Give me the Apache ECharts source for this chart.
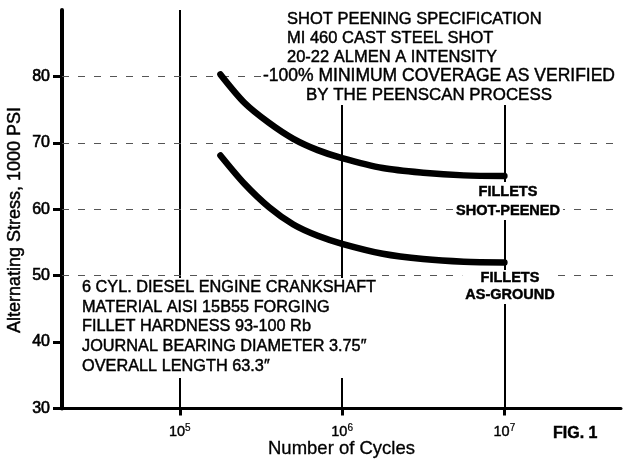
<!DOCTYPE html>
<html><head><meta charset="utf-8">
<script src="https://cdn.jsdelivr.net/npm/echarts@6/dist/echarts.min.js"></script>
<style>html,body{margin:0;padding:0;background:#fff}#c{width:623px;height:459px}</style>
</head><body><div id="c"></div>
<script>
const cycles = [1.78e5, 2.51e5, 3.55e5, 5.01e5, 7.08e5, 1e6, 1.78e6, 3.16e6, 5.62e6, 1e7];
const shotPeened = [80.3, 76.0, 73.0, 70.6, 68.9, 67.7, 66.2, 65.5, 65.1, 65.0];
const asGround = [68.1, 63.8, 60.3, 57.7, 56.0, 54.8, 53.3, 52.5, 52.1, 52.0];
const xTicks = [1e5, 1e6, 1e7];
const yTicks = [30, 40, 50, 60, 70, 80];
const yGridLines = [80, 70, 60, 50];
const specLines = ['SHOT PEENING SPECIFICATION', 'MI 460 CAST STEEL SHOT', '20-22 ALMEN A INTENSITY', '-100% MINIMUM COVERAGE AS VERIFIED', 'BY THE PEENSCAN PROCESS'];
const engineLines = ['6 CYL. DIESEL ENGINE CRANKSHAFT', 'MATERIAL AISI 15B55 FORGING', 'FILLET HARDNESS 93-100 Rb', 'JOURNAL BEARING DIAMETER 3.75\u2033', 'OVERALL LENGTH 63.3\u2033'];
const labelPeened = ['FILLETS', 'SHOT-PEENED'];
const labelGround = ['FILLETS', 'AS-GROUND'];

const FONT = 'Liberation Sans, Arial, Helvetica, sans-serif';
const chart = echarts.init(document.getElementById('c'), null, {renderer: 'canvas'});

const specStyles = ['a', 'a', 'a', 'b', 'c'];
const specText = specLines.map((t, i) => '{' + specStyles[i] + '|' + t + '}').join('\n');
const txtBase = {fontFamily: FONT, fill: '#000', stroke: '#000', lineWidth: 0.45};

chart.setOption({
  animation: false,
  backgroundColor: '#fff',
  grid: {left: 62, right: 2, top: 10, bottom: 50.5, containLabel: false, outerBoundsMode: 'none'},
  xAxis: {
    type: 'log', logBase: 10, min: 18800, max: 5.23e7,
    axisLine: {lineStyle: {color: '#000', width: 3}},
    axisTick: {customValues: xTicks, length: 7, lineStyle: {color: '#000', width: 3}},
    axisLabel: {
      customValues: xTicks, margin: 15, color: '#000',
      formatter: v => '{b|10}{s|' + Math.round(Math.log10(v)) + '}',
      rich: {
        b: {fontFamily: FONT, fontSize: 14.5, color: '#000', textBorderColor: '#000', textBorderWidth: 0.4},
        s: {fontFamily: FONT, fontSize: 10, color: '#000', verticalAlign: 'top', padding: [0, 0, 7, 0], textBorderColor: '#000', textBorderWidth: 0.2}
      }
    },
    splitLine: {show: false},
    name: 'Number of Cycles', nameLocation: 'middle', nameGap: 31, nameMoveOverlap: false,
    nameTextStyle: {fontFamily: FONT, fontSize: 18.5, color: '#000', textBorderColor: '#000', textBorderWidth: 0.3}
  },
  yAxis: {
    type: 'value', min: 30, max: 90,
    axisLine: {lineStyle: {color: '#000', width: 4}},
    axisTick: {customValues: yTicks, length: 9, lineStyle: {color: '#000', width: 3}},
    axisLabel: {customValues: yTicks, margin: 12, fontFamily: FONT, fontSize: 16, color: '#000', textBorderColor: '#000', textBorderWidth: 0.6},
    splitLine: {show: false}
  },
  series: [
    {
      type: 'line', name: 'Fillets shot-peened', smooth: 0.3, showSymbol: false, z: 5,
      data: cycles.map((c, i) => [c, shotPeened[i]]),
      lineStyle: {color: '#000', width: 6.5, cap: 'round'},
      markLine: {
        silent: true, symbol: 'none', label: {show: false}, z: 1,
        data: xTicks.map(v => ({xAxis: v, lineStyle: {color: '#000', width: 2, type: 'solid'}}))
          .concat(yGridLines.map(v => ({yAxis: v, lineStyle: {color: '#555', width: 1.2, type: [7, 9]}})))
      }
    },
    {
      type: 'line', name: 'Fillets as-ground', smooth: 0.3, showSymbol: false, z: 5,
      data: cycles.map((c, i) => [c, asGround[i]]),
      lineStyle: {color: '#000', width: 6.5, cap: 'round'}
    }
  ],
  graphic: [
    {type: 'text', x: 15, y: 220, z: 100, rotation: Math.PI / 2,
     style: Object.assign({}, txtBase, {text: 'Alternating Stress, 1000 PSI', fontSize: 18, textAlign: 'center', textVerticalAlign: 'middle'})},
    {type: 'text', x: 263, y: 10, z: 100,
     style: Object.assign({}, txtBase, {text: specText, fontSize: 16.5, lineHeight: 19, backgroundColor: '#fff', padding: [0, 30, 0, 0],
       rich: {a: {fontSize: 16.5, lineHeight: 19, padding: [0, 0, 0, 24]}, b: {fontSize: 17.5, lineHeight: 19}, c: {fontSize: 16.9, lineHeight: 19, padding: [0, 0, 0, 43]}}})},
    {type: 'text', x: 81, y: 278, z: 100,
     style: Object.assign({}, txtBase, {text: engineLines.join('\n'), fontSize: 16.3, lineHeight: 19.6, backgroundColor: '#fff', padding: [0, 2, 2, 1]})},
    {type: 'text', x: 508, y: 182, z: 100,
     style: Object.assign({}, txtBase, {text: labelPeened.join('\n'), fontSize: 14.5, fontWeight: 'bold', lineHeight: 19, textAlign: 'center', backgroundColor: '#fff', padding: [0, 3, 0, 3]})},
    {type: 'text', x: 510, y: 270, z: 100,
     style: Object.assign({}, txtBase, {text: labelGround.join('\n'), fontSize: 14.5, fontWeight: 'bold', lineHeight: 16.5, textAlign: 'center', backgroundColor: '#fff', padding: [0, 3, 1, 3]})},
    {type: 'text', x: 553, y: 426, z: 100,
     style: Object.assign({}, txtBase, {text: 'FIG. 1', fontSize: 16, fontWeight: 'bold'})}
  ]
});
</script></body></html>
